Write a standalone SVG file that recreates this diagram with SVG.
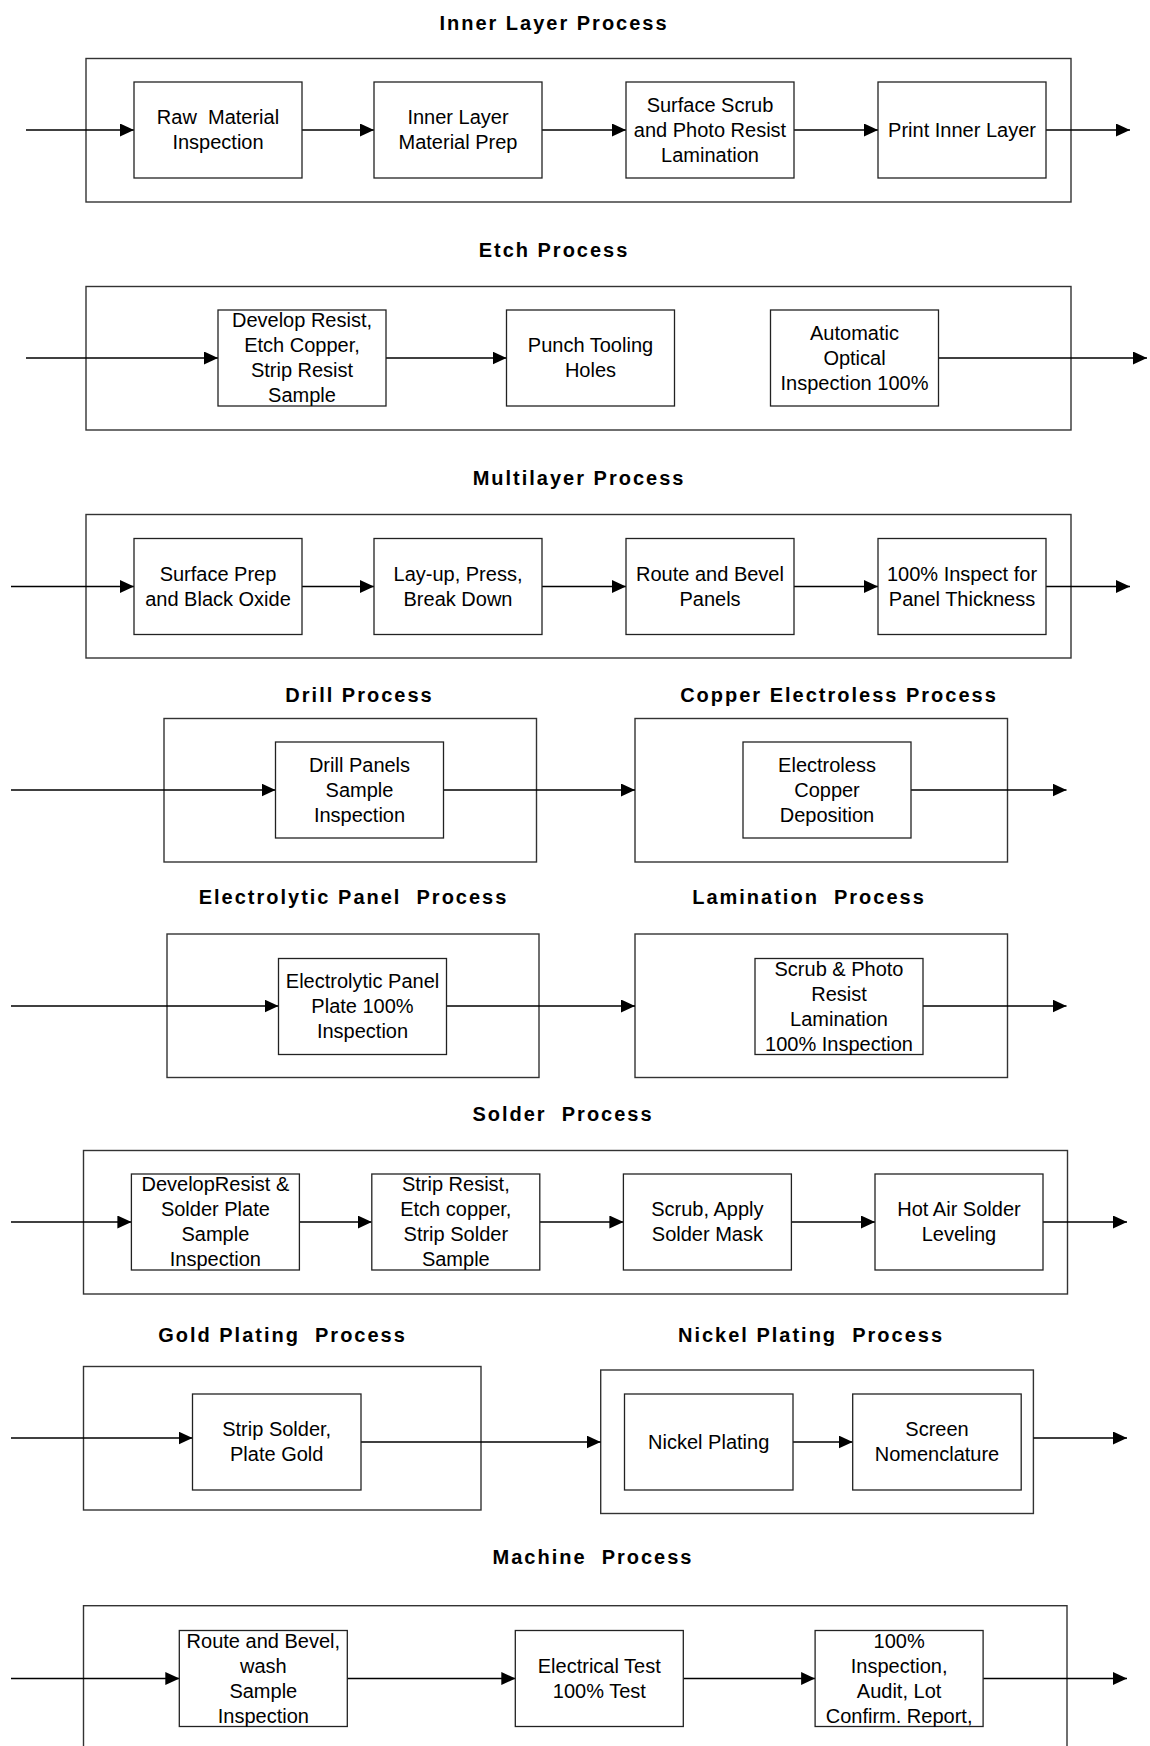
<svg xmlns="http://www.w3.org/2000/svg" width="1150" height="1746" viewBox="0 0 1150 1746">
<defs>
<style>
.bg{fill:#fff}
.outer{fill:none;stroke:#333;stroke-width:1.4}
.box{fill:#fff;stroke:#222;stroke-width:1.3}
.t{font-family:"Liberation Sans",Arial,sans-serif;font-size:20px;fill:#000;text-anchor:middle}
.h{font-family:"Liberation Sans",Arial,sans-serif;font-size:20px;font-weight:bold;letter-spacing:2px;fill:#000;text-anchor:middle}
.c{fill:none;stroke:#000;stroke-width:1.3}
</style>
<marker id="ah" markerUnits="userSpaceOnUse" markerWidth="14" markerHeight="14" refX="14" refY="6.5" orient="auto"><path d="M0,0 L14,6.5 L0,13 z" fill="#000"/></marker>
</defs>
<rect class="bg" x="0" y="0" width="1150" height="1746"/>

<g id="titles">
<text class="h" x="554" y="29.5" xml:space="preserve">Inner Layer Process</text>
<text class="h" x="554" y="257" xml:space="preserve">Etch Process</text>
<text class="h" x="579" y="485" xml:space="preserve">Multilayer Process</text>
<text class="h" x="359.5" y="701.5" xml:space="preserve">Drill Process</text>
<text class="h" x="839" y="701.5" xml:space="preserve">Copper Electroless Process</text>
<text class="h" x="353.5" y="903.5" xml:space="preserve">Electrolytic Panel  Process</text>
<text class="h" x="809" y="903.5" xml:space="preserve">Lamination  Process</text>
<text class="h" x="563" y="1120.5" xml:space="preserve">Solder  Process</text>
<text class="h" x="282.5" y="1341.5" xml:space="preserve">Gold Plating  Process</text>
<text class="h" x="811" y="1341.5" xml:space="preserve">Nickel Plating  Process</text>
<text class="h" x="593" y="1563.5" xml:space="preserve">Machine  Process</text>
</g>

<g id="groups">
<rect id="grp-inner" class="outer" x="86" y="58.5" width="985" height="143.5"/>
<rect id="grp-etch" class="outer" x="86" y="286.5" width="985" height="143.5"/>
<rect id="grp-multi" class="outer" x="86" y="514.5" width="985" height="143.5"/>
<rect id="grp-drill" class="outer" x="164" y="718.5" width="372.5" height="143.5"/>
<rect id="grp-copper" class="outer" x="635" y="718.5" width="372.5" height="143.5"/>
<rect id="grp-electro" class="outer" x="167" y="934" width="372" height="143.5"/>
<rect id="grp-lam" class="outer" x="635" y="934" width="372.5" height="143.5"/>
<rect id="grp-solder" class="outer" x="83.5" y="1150.5" width="984" height="143.5"/>
<rect id="grp-gold" class="outer" x="83.5" y="1366.5" width="397.5" height="143.5"/>
<rect id="grp-nickel" class="outer" x="600.7" y="1370" width="432.7" height="143.5"/>
<rect id="grp-machine" class="outer" x="83.5" y="1605.7" width="983.5" height="160"/>
</g>

<g id="connectors">
<line class="c" x1="26" y1="130" x2="134" y2="130" marker-end="url(#ah)"/>
<line class="c" x1="302" y1="130" x2="374" y2="130" marker-end="url(#ah)"/>
<line class="c" x1="542" y1="130" x2="626" y2="130" marker-end="url(#ah)"/>
<line class="c" x1="794" y1="130" x2="878" y2="130" marker-end="url(#ah)"/>
<line class="c" x1="1046" y1="130" x2="1130" y2="130" marker-end="url(#ah)"/>

<line class="c" x1="26" y1="358" x2="218" y2="358" marker-end="url(#ah)"/>
<line class="c" x1="386" y1="358" x2="506.5" y2="358" marker-end="url(#ah)"/>
<line class="c" x1="938.5" y1="358" x2="1147" y2="358" marker-end="url(#ah)"/>

<line class="c" x1="11" y1="586.5" x2="134" y2="586.5" marker-end="url(#ah)"/>
<line class="c" x1="302" y1="586.5" x2="374" y2="586.5" marker-end="url(#ah)"/>
<line class="c" x1="542" y1="586.5" x2="626" y2="586.5" marker-end="url(#ah)"/>
<line class="c" x1="794" y1="586.5" x2="878" y2="586.5" marker-end="url(#ah)"/>
<line class="c" x1="1046" y1="586.5" x2="1130" y2="586.5" marker-end="url(#ah)"/>

<line class="c" x1="11" y1="790" x2="275.5" y2="790" marker-end="url(#ah)"/>
<line class="c" x1="443.5" y1="790" x2="635" y2="790" marker-end="url(#ah)"/>
<line class="c" x1="911" y1="790" x2="1066.5" y2="790" marker-end="url(#ah)"/>

<line class="c" x1="11" y1="1006" x2="278.5" y2="1006" marker-end="url(#ah)"/>
<line class="c" x1="446.5" y1="1006" x2="635" y2="1006" marker-end="url(#ah)"/>
<line class="c" x1="923" y1="1006" x2="1066.5" y2="1006" marker-end="url(#ah)"/>

<line class="c" x1="11" y1="1222" x2="131.4" y2="1222" marker-end="url(#ah)"/>
<line class="c" x1="299.4" y1="1222" x2="371.8" y2="1222" marker-end="url(#ah)"/>
<line class="c" x1="539.8" y1="1222" x2="623.4" y2="1222" marker-end="url(#ah)"/>
<line class="c" x1="791.4" y1="1222" x2="875" y2="1222" marker-end="url(#ah)"/>
<line class="c" x1="1043" y1="1222" x2="1127" y2="1222" marker-end="url(#ah)"/>

<line class="c" x1="11" y1="1438" x2="192.5" y2="1438" marker-end="url(#ah)"/>
<line class="c" x1="361" y1="1442" x2="600.7" y2="1442" marker-end="url(#ah)"/>
<line class="c" x1="793" y1="1442" x2="852.7" y2="1442" marker-end="url(#ah)"/>
<line class="c" x1="1033.4" y1="1438" x2="1127" y2="1438" marker-end="url(#ah)"/>

<line class="c" x1="11" y1="1678.5" x2="179.3" y2="1678.5" marker-end="url(#ah)"/>
<line class="c" x1="347.3" y1="1678.5" x2="515.3" y2="1678.5" marker-end="url(#ah)"/>
<line class="c" x1="683.3" y1="1678.5" x2="815.1" y2="1678.5" marker-end="url(#ah)"/>
<line class="c" x1="983.1" y1="1678.5" x2="1127" y2="1678.5" marker-end="url(#ah)"/>
</g>

<g id="n-raw"><rect class="box" x="134" y="82" width="168" height="96"/>
<text class="t" x="218" y="124" xml:space="preserve">Raw  Material</text><text class="t" x="218" y="149">Inspection</text></g>
<g id="n-inner-prep"><rect class="box" x="374" y="82" width="168" height="96"/>
<text class="t" x="458" y="124">Inner Layer</text><text class="t" x="458" y="149">Material Prep</text></g>
<g id="n-scrub"><rect class="box" x="626" y="82" width="168" height="96"/>
<text class="t" x="710" y="111.5">Surface Scrub</text><text class="t" x="710" y="136.5">and Photo Resist</text><text class="t" x="710" y="161.5">Lamination</text></g>
<g id="n-print"><rect class="box" x="878" y="82" width="168" height="96"/>
<text class="t" x="962" y="136.5">Print Inner Layer</text></g>

<g id="n-develop"><rect class="box" x="218" y="310" width="168" height="96"/>
<text class="t" x="302" y="327">Develop Resist,</text><text class="t" x="302" y="352">Etch Copper,</text><text class="t" x="302" y="377">Strip Resist</text><text class="t" x="302" y="402">Sample</text></g>
<g id="n-punch"><rect class="box" x="506.5" y="310" width="168" height="96"/>
<text class="t" x="590.5" y="352">Punch Tooling</text><text class="t" x="590.5" y="377">Holes</text></g>
<g id="n-aoi"><rect class="box" x="770.5" y="310" width="168" height="96"/>
<text class="t" x="854.5" y="339.5">Automatic</text><text class="t" x="854.5" y="364.5">Optical</text><text class="t" x="854.5" y="389.5">Inspection 100%</text></g>

<g id="n-surface-prep"><rect class="box" x="134" y="538.5" width="168" height="96"/>
<text class="t" x="218" y="580.5">Surface Prep</text><text class="t" x="218" y="605.5">and Black Oxide</text></g>
<g id="n-layup"><rect class="box" x="374" y="538.5" width="168" height="96"/>
<text class="t" x="458" y="580.5">Lay-up, Press,</text><text class="t" x="458" y="605.5">Break Down</text></g>
<g id="n-route-panels"><rect class="box" x="626" y="538.5" width="168" height="96"/>
<text class="t" x="710" y="580.5">Route and Bevel</text><text class="t" x="710" y="605.5">Panels</text></g>
<g id="n-thickness"><rect class="box" x="878" y="538.5" width="168" height="96"/>
<text class="t" x="962" y="580.5">100% Inspect for</text><text class="t" x="962" y="605.5">Panel Thickness</text></g>

<g id="n-drill"><rect class="box" x="275.5" y="742" width="168" height="96"/>
<text class="t" x="359.5" y="771.5">Drill Panels</text><text class="t" x="359.5" y="796.5">Sample</text><text class="t" x="359.5" y="821.5">Inspection</text></g>
<g id="n-electroless"><rect class="box" x="743" y="742" width="168" height="96"/>
<text class="t" x="827" y="771.5">Electroless</text><text class="t" x="827" y="796.5">Copper</text><text class="t" x="827" y="821.5">Deposition</text></g>

<g id="n-electrolytic"><rect class="box" x="278.5" y="958.5" width="168" height="96"/>
<text class="t" x="362.5" y="988">Electrolytic Panel</text><text class="t" x="362.5" y="1013">Plate 100%</text><text class="t" x="362.5" y="1038">Inspection</text></g>
<g id="n-lamination"><rect class="box" x="755" y="958.5" width="168" height="96"/>
<text class="t" x="839" y="975.5">Scrub &amp; Photo</text><text class="t" x="839" y="1000.5">Resist</text><text class="t" x="839" y="1025.5">Lamination</text><text class="t" x="839" y="1050.5">100% Inspection</text></g>

<g id="n-develop-solder"><rect class="box" x="131.4" y="1174" width="168" height="96"/>
<text class="t" x="215.4" y="1191">DevelopResist &amp;</text><text class="t" x="215.4" y="1216">Solder Plate</text><text class="t" x="215.4" y="1241">Sample</text><text class="t" x="215.4" y="1266">Inspection</text></g>
<g id="n-strip-resist"><rect class="box" x="371.8" y="1174" width="168" height="96"/>
<text class="t" x="455.8" y="1191">Strip Resist,</text><text class="t" x="455.8" y="1216">Etch copper,</text><text class="t" x="455.8" y="1241">Strip Solder</text><text class="t" x="455.8" y="1266">Sample</text></g>
<g id="n-mask"><rect class="box" x="623.4" y="1174" width="168" height="96"/>
<text class="t" x="707.4" y="1216">Scrub, Apply</text><text class="t" x="707.4" y="1241">Solder Mask</text></g>
<g id="n-hasl"><rect class="box" x="875" y="1174" width="168" height="96"/>
<text class="t" x="959" y="1216">Hot Air Solder</text><text class="t" x="959" y="1241">Leveling</text></g>

<g id="n-gold"><rect class="box" x="192.5" y="1394" width="168.5" height="96"/>
<text class="t" x="276.7" y="1436">Strip Solder,</text><text class="t" x="276.7" y="1461">Plate Gold</text></g>
<g id="n-nickel"><rect class="box" x="624.5" y="1394" width="168.5" height="96"/>
<text class="t" x="708.7" y="1448.5">Nickel Plating</text></g>
<g id="n-screen"><rect class="box" x="852.7" y="1394" width="168.5" height="96"/>
<text class="t" x="937" y="1436">Screen</text><text class="t" x="937" y="1461">Nomenclature</text></g>

<g id="n-route-wash"><rect class="box" x="179.3" y="1630.5" width="168" height="96"/>
<text class="t" x="263.3" y="1647.5">Route and Bevel,</text><text class="t" x="263.3" y="1672.5">wash</text><text class="t" x="263.3" y="1697.5">Sample</text><text class="t" x="263.3" y="1722.5">Inspection</text></g>
<g id="n-etest"><rect class="box" x="515.3" y="1630.5" width="168" height="96"/>
<text class="t" x="599.3" y="1672.5">Electrical Test</text><text class="t" x="599.3" y="1697.5">100% Test</text></g>
<g id="n-final"><rect class="box" x="815.1" y="1630.5" width="168" height="96"/>
<text class="t" x="899.1" y="1647.5">100%</text><text class="t" x="899.1" y="1672.5">Inspection,</text><text class="t" x="899.1" y="1697.5">Audit, Lot</text><text class="t" x="899.1" y="1722.5">Confirm. Report,</text></g>
</svg>
